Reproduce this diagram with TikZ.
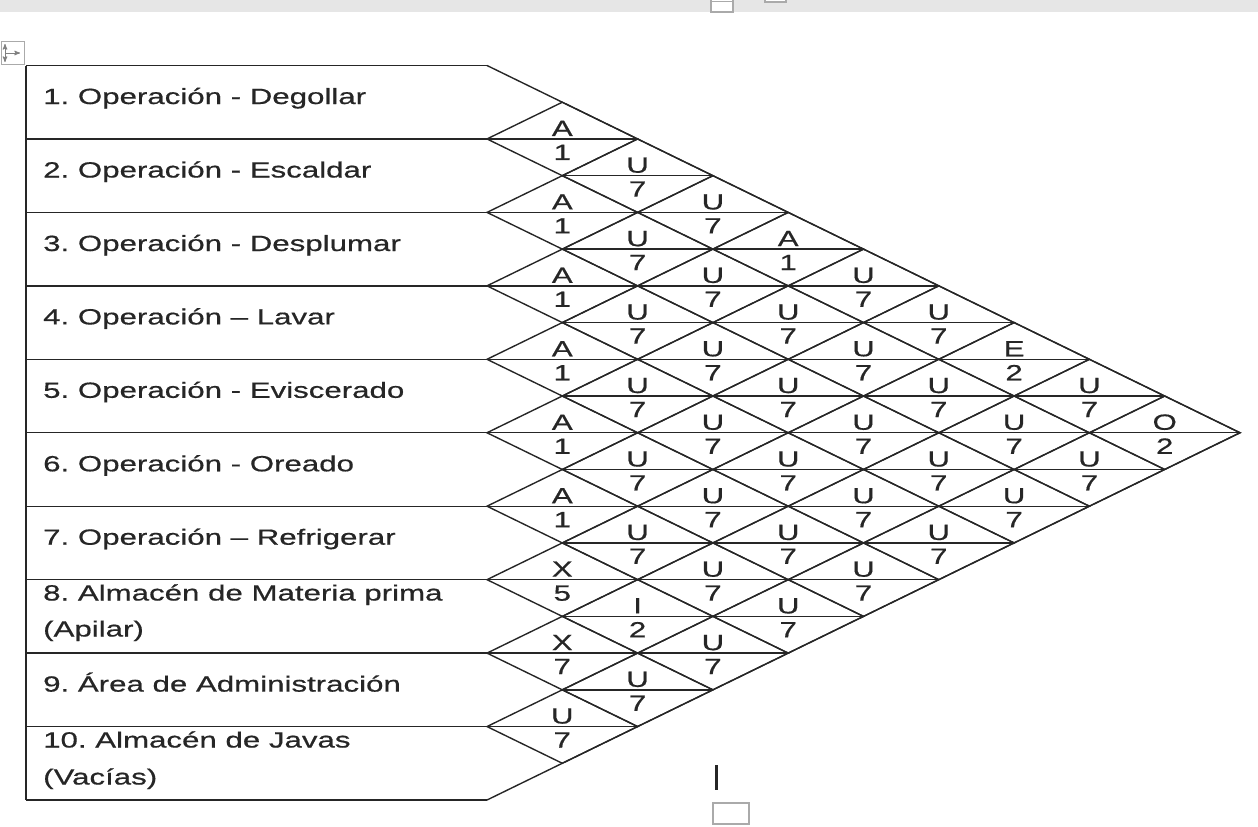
\documentclass[tikz,border=0pt]{standalone}
\usepackage{fontspec}
\setmainfont[FakeStretch=1.42,FakeBold=0.6]{Liberation Sans}
\usetikzlibrary{positioning}
\usetikzlibrary{calc}
\usetikzlibrary{arrows}
\usetikzlibrary{shapes.geometric}
\definecolor{ink}{RGB}{38,38,38}
\definecolor{chrome}{RGB}{230,230,230}
\definecolor{ui}{RGB}{170,170,170}
\tikzset{>=stealth'}
\tikzset{ln/.style={draw=ink, line width=1.4pt}}
\tikzset{rel/.style={diamond, draw=ink, line width=1.4pt, minimum width=150.6pt, minimum height=73.45pt, inner sep=0pt, outer sep=0pt}}
\tikzset{txt/.style={anchor=base west, inner sep=0pt, text=ink, font=\fontsize{22}{26}\selectfont}}
\tikzset{code/.style={anchor=base, inner sep=0pt, text=ink, font=\fontsize{22}{26}\selectfont}}
\frenchspacing

\begin{document}
\begin{tikzpicture}[x=1pt,y=-1pt]
\useasboundingbox (0,0) rectangle (1258,827);

% editor chrome
\fill[chrome] (0,0) rectangle (1258,12);
\draw[ui, fill=white, line width=1.5pt] (711,-2) rectangle (733,12);
\draw[ui, line width=1.5pt] (711,1.5) -- (733,1.5);
\draw[ui, fill=white, line width=1.5pt] (765,-2) rectangle (786,2);
\draw[ui, line width=1pt] (1,41) rectangle (24,64);
\draw[<->, gray, line width=1pt] (5,44) -- (5,62);
\draw[->, gray, line width=1pt] (5,53) -- (20,53);
\draw[ink, line width=2.5pt] (716.5,765) -- (716.5,790);
\draw[ui, line width=1.5pt] (713,803) rectangle (749,824);

% rows
\foreach \k in {0,...,10}
  \draw[ln] (26,{65.5+73.45*\k}) -- (487,{65.5+73.45*\k});
\draw[ln] (26,65.5) -- (26,800);

\node[txt] (r1) at (43,104) {1. Operación - Degollar};
\node[txt] (r2) at (43,177.5) {2. Operación - Escaldar};
\node[txt] (r3) at (43,251) {3. Operación - Desplumar};
\node[txt] (r4) at (43,324.4) {4. Operación – Lavar};
\node[txt] (r5) at (43,397.8) {5. Operación - Eviscerado};
\node[txt] (r6) at (43,471.3) {6. Operación - Oreado};
\node[txt] (r7) at (43,544.7) {7. Operación – Refrigerar};
\node[txt] (r8) at (43,600.5) {8. Almacén de Materia prima};
\node[txt] (r8b) at ($(r8.base west)+(0,36)$) {(Apilar)};
\node[txt] (r9) at (43,691.6) {9. Área de Administración};
\node[txt] (r10) at (43,747.5) {10. Almacén de Javas};
\node[txt] (r10b) at ($(r10.base west)+(0,37)$) {(Vacías)};

% outer edges of the chart
\coordinate (c0) at (487,65.5);
\coordinate (c10) at (487,800);
\coordinate (tip) at (1240,432.75);
\draw[ln] (c0) -- (tip) -- (c10);

% one diamond per pair i/j: closeness letter over reason code
\foreach \i/\j/\a/\n in {
  1/2/A/1, 2/3/A/1, 3/4/A/1, 4/5/A/1, 5/6/A/1, 6/7/A/1, 7/8/X/5, 8/9/X/7, 9/10/U/7,
  1/3/U/7, 2/4/U/7, 3/5/U/7, 4/6/U/7, 5/7/U/7, 6/8/U/7, 7/9/I/2, 8/10/U/7,
  1/4/U/7, 2/5/U/7, 3/6/U/7, 4/7/U/7, 5/8/U/7, 6/9/U/7, 7/10/U/7,
  1/5/A/1, 2/6/U/7, 3/7/U/7, 4/8/U/7, 5/9/U/7, 6/10/U/7,
  1/6/U/7, 2/7/U/7, 3/8/U/7, 4/9/U/7, 5/10/U/7,
  1/7/U/7, 2/8/U/7, 3/9/U/7, 4/10/U/7,
  1/8/E/2, 2/9/U/7, 3/10/U/7,
  1/9/U/7, 2/10/U/7,
  1/10/O/2}
{
  \node[rel] (d\i-\j) at ({487+75.3*(\j-\i)},{65.5+36.725*(\i+\j-1)}) {};
  \draw[ln] (d\i-\j.west) -- (d\i-\j.east);
  \node[code] (a\i-\j) at ($(d\i-\j.center)+(0,-3)$) {\a};
  \node[code] (n\i-\j) at ($(d\i-\j.center)+(0,21)$) {\n};
}

\end{tikzpicture}
\end{document}
